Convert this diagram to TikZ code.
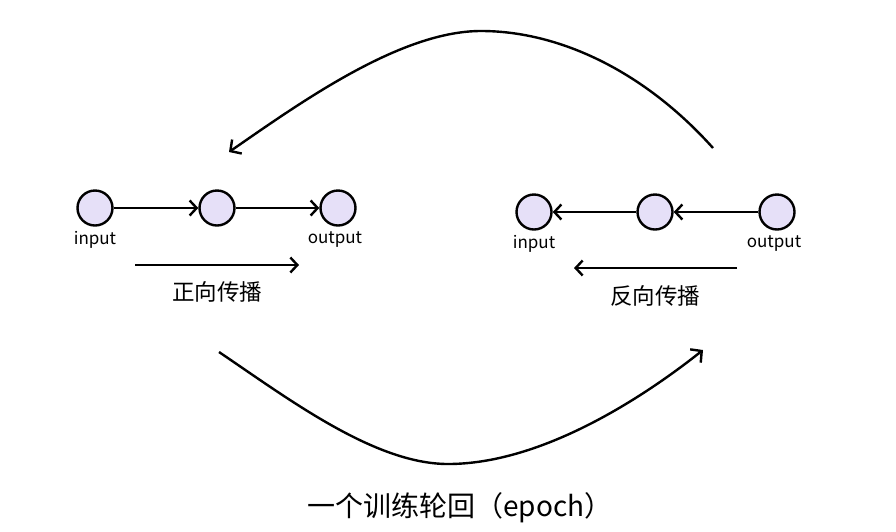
\documentclass[tikz,border=0pt]{standalone}
\usepackage{fontspec}
\setmainfont{Noto Sans CJK SC}
\usetikzlibrary{arrows.meta}
\definecolor{nodefill}{HTML}{E6E0F8}
\tikzset{
  neuron/.style={circle, draw=black, fill=nodefill, line width=2.4pt, minimum size=35pt, inner sep=0pt},
  lbl/.style={font=\fontsize{17}{20}\selectfont, inner sep=0pt},
  captxt/.style={font=\fontsize{22.5}{26}\selectfont, inner sep=0pt},
  conn/.style={line width=2.4pt, -{Straight Barb[length=7pt, width=15pt, line width=2.4pt]}},
  bigconn/.style={line width=2.4pt, -{Straight Barb[length=8pt, width=17pt, line width=2.4pt]}}
}
\begin{document}
\begin{tikzpicture}[x=1pt, y=-1pt]
\useasboundingbox (0,0) rectangle (896,531);
% forward row
\node[neuron] (f1) at (95,208) {};
\node[neuron] (f2) at (217,208) {};
\node[neuron] (f3) at (338,208) {};
\node[lbl] (fin) at (95,240) {input};
\node[lbl] (fout) at (335,240) {output};
\draw[conn] (f1) -- (f2);
\draw[conn] (f2) -- (f3);
\coordinate (fa) at (135,265);
\coordinate (fb) at (299,265);
\draw[conn] (fa) -- (fb);
\node[captxt] (fcap) at (217,292) {正向传播};
% backward row
\node[neuron] (b1) at (534,212) {};
\node[neuron] (b2) at (655,212) {};
\node[neuron] (b3) at (777,212) {};
\node[lbl] (bin) at (534,244) {input};
\node[lbl] (bout) at (774,244) {output};
\draw[conn] (b3) -- (b2);
\draw[conn] (b2) -- (b1);
\coordinate (ba) at (737,268);
\coordinate (bb) at (574,268);
\draw[conn] (ba) -- (bb);
\node[captxt] (bcap) at (655,296) {反向传播};
% top curve
\coordinate (t0) at (713,148);
\coordinate (tm) at (481,31);
\coordinate (t1) at (229,152);
\draw[bigconn] (t0) .. controls (645,72) and (560,31) .. (tm) .. controls (400,31) and (300,103) .. (t1);
% bottom curve
\coordinate (u0) at (219,352);
\coordinate (um) at (448,464);
\coordinate (u1) at (703,350);
\draw[bigconn] (u0) .. controls (290,400) and (375,464) .. (um) .. controls (540,464) and (640,400) .. (u1);
\node[font=\fontsize{28}{32}\selectfont, inner sep=0pt] (epoch) at (460,508) {一个训练轮回（epoch）};
\end{tikzpicture}
\end{document}
